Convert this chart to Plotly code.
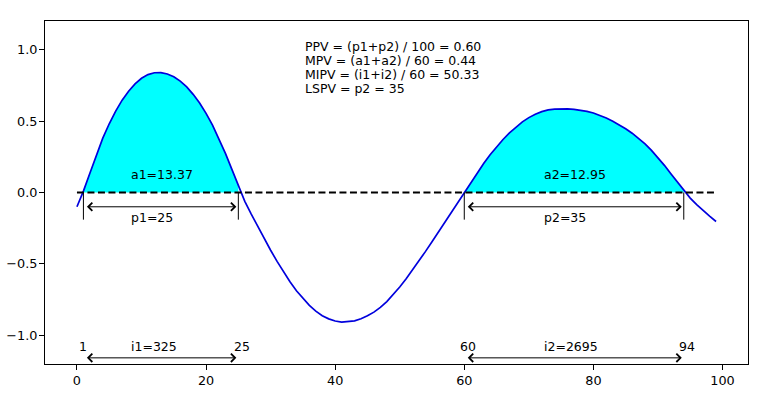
import plotly.graph_objects as go

# ---- data (one value per x = 0..99) ----
Y = [
    -0.100, 0.010, 0.135, 0.265, 0.380, 0.481, 0.570, 0.646, 0.709, 0.760,
    0.799, 0.825, 0.838, 0.839, 0.829, 0.810, 0.779, 0.739, 0.687, 0.626,
    0.554, 0.472, 0.379, 0.274, 0.162, 0.045, -0.062, -0.151, -0.238, -0.322,
    -0.404, -0.482, -0.556, -0.625, -0.688, -0.743, -0.790, -0.830, -0.862, -0.884,
    -0.899, -0.907, -0.905, -0.898, -0.883, -0.863, -0.837, -0.804, -0.763, -0.715,
    -0.661, -0.603, -0.542, -0.478, -0.412, -0.345, -0.277, -0.208, -0.139, -0.069,
    0.002, 0.071, 0.138, 0.203, 0.264, 0.320, 0.371, 0.417, 0.458, 0.494,
    0.524, 0.548, 0.566, 0.578, 0.584, 0.586, 0.585, 0.582, 0.577, 0.568,
    0.556, 0.540, 0.521, 0.499, 0.474, 0.446, 0.415, 0.380, 0.340, 0.295,
    0.245, 0.190, 0.131, 0.072, 0.013, -0.039, -0.085, -0.127, -0.166, -0.203,
]
X = list(range(len(Y)))

seg_start = [1, 60]
seg_end = [25, 94]
p_vals = [25, 35]
a_vals = [13.37, 12.95]
i_vals = [325, 2695]

x_ticks = [0, 20, 40, 60, 80, 100]
y_ticks = [-1.0, -0.5, 0.0, 0.5, 1.0]
y_ticktext = ["\u22121.0", "\u22120.5", "0.0", "0.5", "1.0"]

FONT = "DejaVu Sans"
FS = 12.5
CURVE = "#0000dd"

fig = go.Figure()

# filled areas (between the curve and zero over each positive period)
for s, e in zip(seg_start, seg_end):
    fig.add_trace(go.Scatter(x=X[s:e + 1], y=Y[s:e + 1], mode="lines", fill="tozeroy",
                             fillcolor="#00ffff", line=dict(width=0),
                             hoverinfo="skip", showlegend=False))

# curve
fig.add_trace(go.Scatter(x=X, y=Y, mode="lines",
                         line=dict(color=CURVE, width=1.7),
                         showlegend=False))

shapes = [dict(type="line", xref="x", yref="y", x0=X[0], x1=X[-1], y0=0, y1=0,
               line=dict(color="black", width=1.8, dash="7px,3.5px"), layer="above")]
annotations = []
P_ARROW_Y = -0.10
P_TICK_Y = -0.19
I_ARROW_Y = -1.157
I_TEXT_Y = -1.075

for k, (s, e) in enumerate(zip(seg_start, seg_end)):
    mid = (s + e) / 2
    for xv in (s, e):
        shapes.append(dict(type="line", xref="x", yref="y", x0=xv, x1=xv, y0=0, y1=P_TICK_Y,
                           line=dict(color="black", width=1)))
    for yv in (P_ARROW_Y, I_ARROW_Y):
        annotations.append(dict(x=e, y=yv, ax=s, ay=yv, xref="x", yref="y", axref="x", ayref="y",
                                showarrow=True, arrowhead=4, startarrowhead=4, arrowside="end+start",
                                arrowsize=1.6, startarrowsize=1.6, arrowwidth=1, arrowcolor="black",
                                standoff=2, startstandoff=2, text=""))
    annotations.append(dict(x=mid - 5, y=0.127, xref="x", yref="y", showarrow=False,
                            xanchor="left", yanchor="middle",
                            text=f"a{k+1}={a_vals[k]:.2f}"))
    annotations.append(dict(x=mid - 5, y=-0.175, xref="x", yref="y", showarrow=False,
                            xanchor="left", yanchor="middle",
                            text=f"p{k+1}={p_vals[k]}"))
    annotations.append(dict(x=mid - 5, y=I_TEXT_Y, xref="x", yref="y", showarrow=False,
                            xanchor="left", yanchor="middle",
                            text=f"i{k+1}={i_vals[k]}"))
    for xv in (s, e):
        annotations.append(dict(x=xv - 1, y=I_TEXT_Y, xref="x", yref="y", showarrow=False,
                                xanchor="left", yanchor="middle", text=str(xv)))

ppv = sum(p_vals) / 100
mpv = sum(a_vals) / 60
mipv = sum(i_vals) / 60
lines = [
    f"PPV = (p1+p2) / 100 = {ppv:.2f}",
    f"MPV = (a1+a2) / 60 = {mpv:.2f}",
    f"MIPV = (i1+i2) / 60 = {mipv:.2f}",
    f"LSPV = p2 = {p_vals[1]}",
]
line_y = [1.025, 0.924, 0.826, 0.726]
for t, yv in zip(lines, line_y):
    annotations.append(dict(x=35, y=yv, xref="x", yref="y", showarrow=False,
                            xanchor="left", yanchor="middle", text=t))

for a in annotations:
    a.setdefault("font", dict(family=FONT, size=FS, color="black"))

fig.update_layout(
    width=761, height=397,
    margin=dict(l=45, r=13, t=21, b=33),
    paper_bgcolor="white", plot_bgcolor="white",
    font=dict(family=FONT, size=FS, color="black"),
    shapes=shapes, annotations=annotations,
    showlegend=False,
)
axis_common = dict(showgrid=False, zeroline=False, showline=True, mirror=True,
                   linecolor="black", linewidth=1, ticks="outside", ticklen=5,
                   tickcolor="black", tickwidth=1, automargin=False,
                   tickfont=dict(family=FONT, size=12.8, color="black"))
fig.update_xaxes(range=[-4.95, 103.95], tickvals=x_ticks, **axis_common)
fig.update_yaxes(range=[-1.2, 1.2], tickvals=y_ticks, ticktext=y_ticktext,
                 ticklabelstandoff=-1, **axis_common)

# remove the default page margin so the 761x397 figure fills the window exactly
fig.write_html("out.html",
               config={"displayModeBar": False},
               post_script="document.body.style.margin='0px';document.body.style.overflow='hidden';")
